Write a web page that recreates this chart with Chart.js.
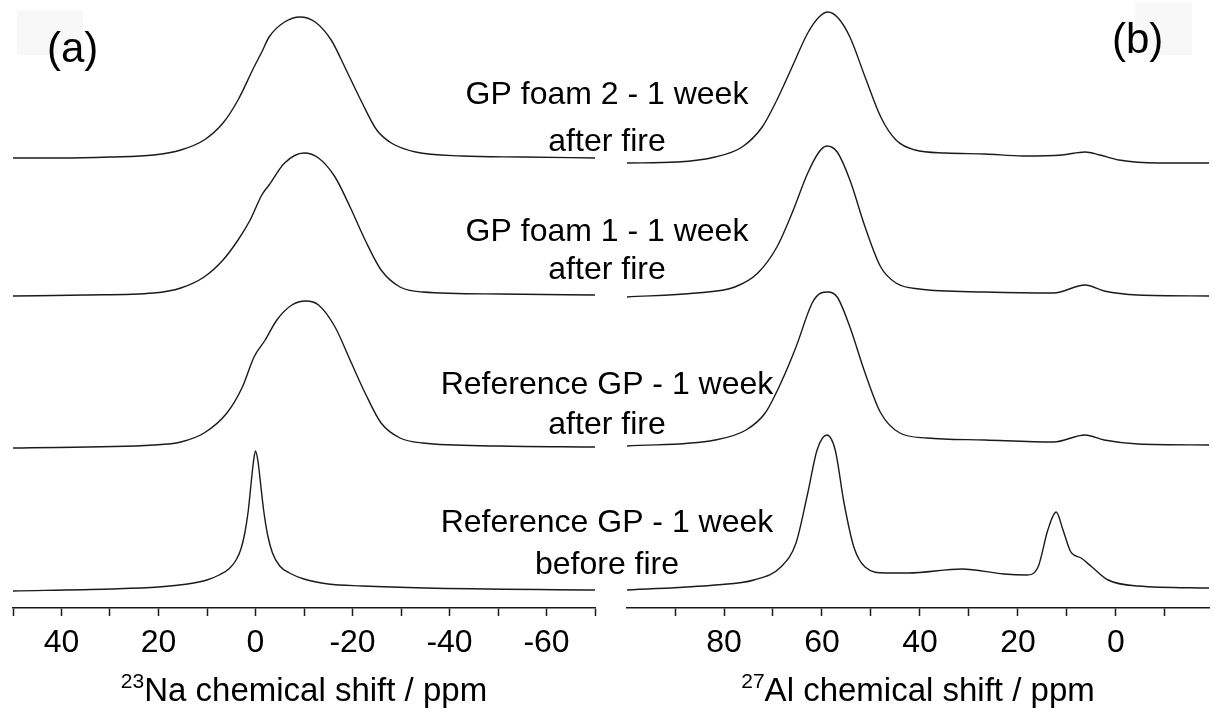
<!DOCTYPE html>
<html>
<head>
<meta charset="utf-8">
<script src="https://cdn.jsdelivr.net/npm/chart.js@4.4.1/dist/chart.umd.min.js"></script>
<style>
  html, body { margin: 0; padding: 0; background: #fff; }
  #wrap { position: relative; width: 1213px; height: 716px; }
  #wrap canvas { position: absolute; left: 0; top: 0; }
</style>
</head>
<body>
<div id="wrap">
  <canvas id="naChart" width="1213" height="716"></canvas>
  <canvas id="alChart" width="1213" height="716"></canvas>
</div>
<script>

/******************************************************************
SPECTRA (chemical shift in ppm, intensity above each baseline)
******************************************************************/

// 23Na
var naShiftFoam2 = [50, 40, 30, 21, 15.4, 10.6, 6.7, 3.6, 0.3, -1.3, -2.8, -6, -9.2, -12.3, -15.6, -18.7, -22, -25, -28, -33, -42.6, -55, -70];
var naFoam2      = [0, 0, 1, 3, 8, 18, 35, 58, 91, 106, 121, 136, 141, 136, 118, 88, 55, 28, 15, 6, 2, 1, 0];

var naShiftFoam1 = [50, 35, 21, 15.4, 10.6, 6.7, 3.6, 1.1, -1.3, -2.8, -6, -10, -13, -16.4, -19.5, -22.6, -25.9, -29.8, -34.5, -50.4, -70];
var naFoam1      = [0, 1, 3, 8, 19, 36, 56, 76, 101, 111, 133, 143, 138, 119, 89, 56, 26, 9, 4, 2, 1];

var naShiftRefAfter = [50, 21, 15.4, 10.6, 5.9, 2.7, 0.3, -2, -4.4, -7.5, -10.4, -13, -16.4, -19.5, -22.6, -25.9, -29.8, -34.5, -50, -70];
var naRefAfter      = [0, 3, 6, 15, 35, 61, 91, 108, 128, 143, 147, 143, 121, 88, 55, 25, 10, 5, 2, 1];

var naShiftRefBefore = [50, 30, 20, 14, 10, 7.5, 5.5, 4, 3, 2.2, 1.5, 0.9, 0.4, 0, -0.5, -1.1, -1.7, -2.5, -3.5, -5, -7, -10, -15, -22, -35, -70];
var naRefBefore      = [0, 2, 4, 7, 11, 16, 22, 31, 42, 58, 80, 108, 130, 140, 130, 105, 80, 56, 38, 25, 18, 12, 7, 5, 3, 1];

// 27Al
var alShiftFoam2 = [99.8, 89.6, 81.8, 76.3, 72.2, 69.2, 66.1, 62.9, 60.6, 58.8, 56.7, 54.3, 51.2, 48, 44.9, 41, 34.7, 26.7, 19, 11, 6.3, 3.3, -0.6, -8.6, -19];
var alFoam2      = [0, 1, 6, 16, 36, 63, 96, 130, 146, 151, 145, 126, 86, 46, 23, 13, 10, 9, 7, 8, 11, 8, 3, 0, 0];

var alShiftFoam1 = [99.8, 85.7, 77.8, 73.1, 69.2, 66.1, 62.9, 60.6, 59, 56.9, 54.3, 51.2, 48, 44.9, 40.2, 26.7, 12.7, 6.3, 2.4, -4.5, -19];
var alFoam1      = [0, 4, 10, 24, 50, 84, 124, 145, 151, 145, 117, 70, 30, 14, 8, 5, 4, 12, 6, 2, 1];

var alShiftRefAfter = [99.8, 81.8, 75.5, 71.6, 68.4, 65.3, 62, 60.2, 58.8, 56.9, 54.3, 51.2, 48, 44.1, 38.6, 26.7, 12.7, 6.3, 2.4, -4.5, -19];
var alRefAfter      = [0, 6, 16, 33, 63, 99, 143, 153, 154, 149, 119, 73, 33, 13, 8, 6, 4, 11, 6, 2, 1];

var alShiftRefBefore = [99.8, 81.8, 73.9, 68.4, 65.3, 62.9, 61, 59, 57.3, 55.5, 53.5, 51.2, 47.1, 42.4, 31.4, 22.9, 18.2, 15.9, 13.9, 12.2, 10.8, 9.2, 7.1, 4.9, 1.6, -4.5, -19];
var alRefBefore      = [0, 5, 10, 23, 47, 97, 140, 155, 140, 87, 43, 23, 17, 17, 21, 16, 15, 23, 60, 78, 60, 38, 32, 23, 10, 4, 2];

// stacking offsets, top trace first
var naOffsets = [450, 312, 160, 17];
var alOffsets = [445, 311, 162, 18];

var sampleNames = [
  ['GP foam 2 - 1 week', 'after fire'],
  ['GP foam 1 - 1 week', 'after fire'],
  ['Reference GP - 1 week', 'after fire'],
  ['Reference GP - 1 week', 'before fire']
];

// axis ranges and tick marks (ppm)
var naRange = { min: -70, max: 50 };
var alRange = { min: -19, max: 99.8 };
var naTickValues = [50, 40, 30, 20, 10, 0, -10, -20, -30, -40, -50, -60, -70];
var alTickValues = [90, 80, 70, 60, 50, 40, 30, 20, 10, 0, -10];


/******************************************************************
HELPERS
******************************************************************/

var FONT = '"Liberation Sans", Arial, Helvetica, sans-serif';
var INK = '#1a1a1a';
var TEXT = '#000';

function trace(shifts, values, offset) {
  var pts = [];
  for (var i = 0; i < shifts.length; i++) {
    pts.push({ x: shifts[i], y: values[i] + offset });
  }
  return {
    data: pts,
    borderColor: INK,
    borderWidth: 1.4,
    pointRadius: 0,
    fill: false,
    cubicInterpolationMode: 'monotone'
  };
}

function shiftAxis(range, tickValues) {
  return {
    type: 'linear',
    reverse: true,
    min: range.min,
    max: range.max,
    bounds: 'data',
    afterBuildTicks: function (axis) {
      axis.ticks = tickValues.map(function (v) { return { value: v }; });
    },
    afterFit: function (scale) { scale.height = 108; },
    border: { display: true, color: INK, width: 1.5 },
    grid: { display: true, drawOnChartArea: false, drawTicks: true, tickLength: 8, tickWidth: 1.5, tickColor: INK },
    ticks: {
      autoSkip: false,
      maxRotation: 0,
      padding: 8,
      color: TEXT,
      font: { family: FONT, size: 32 },
      callback: function (v) { return v % 20 === 0 ? String(v) : ''; }
    }
  };
}

// axis title with a raised mass number
var axisTitle = {
  id: 'axisTitle',
  afterDraw: function (chart, args, opts) {
    var ctx = chart.ctx;
    var sc = chart.scales.x;
    var mid = (sc.left + sc.right) / 2;
    ctx.save();
    ctx.fillStyle = TEXT;
    ctx.textAlign = 'left';
    ctx.textBaseline = 'alphabetic';
    ctx.font = '21px ' + FONT;
    var supW = ctx.measureText(opts.mass).width;
    ctx.font = '33px ' + FONT;
    var mainW = ctx.measureText(opts.text).width;
    var x0 = mid - (supW + mainW) / 2;
    ctx.fillText(opts.text, x0 + supW, opts.y);
    ctx.font = '21px ' + FONT;
    ctx.fillText(opts.mass, x0, opts.y - 13);
    ctx.restore();
  }
};

// panel letter on a faint box
var panelTag = {
  id: 'panelTag',
  beforeDraw: function (chart, args, opts) {
    var ctx = chart.ctx;
    ctx.save();
    ctx.fillStyle = '#f8f8f8';
    ctx.fillRect(opts.box[0], opts.box[1], opts.box[2], opts.box[3]);
    ctx.restore();
  },
  afterDraw: function (chart, args, opts) {
    var ctx = chart.ctx;
    ctx.save();
    ctx.fillStyle = TEXT;
    ctx.font = '42px ' + FONT;
    ctx.textAlign = 'left';
    ctx.textBaseline = 'alphabetic';
    ctx.fillText(opts.text, opts.x, opts.y);
    ctx.restore();
  }
};

// sample names between the two panels
var sampleLabels = {
  id: 'sampleLabels',
  afterDraw: function (chart, args, opts) {
    var ctx = chart.ctx;
    ctx.save();
    ctx.fillStyle = TEXT;
    ctx.font = '32px ' + FONT;
    ctx.textAlign = 'center';
    ctx.textBaseline = 'middle';
    for (var i = 0; i < sampleNames.length; i++) {
      ctx.fillText(sampleNames[i][0], opts.x, opts.rows[i][0]);
      ctx.fillText(sampleNames[i][1], opts.x, opts.rows[i][1]);
    }
    ctx.restore();
  }
};

function baseOptions(padLeft, padRight, range, tickValues) {
  return {
    responsive: false,
    animation: false,
    events: [],
    layout: { padding: { left: padLeft, right: padRight, top: 0, bottom: 0 } },
    scales: {
      x: shiftAxis(range, tickValues),
      y: { display: false, min: 0, max: 608 }
    },
    plugins: { legend: { display: false }, tooltip: { enabled: false } }
  };
}


/******************************************************************
23Na PANEL (a)
******************************************************************/

var naOpts = baseOptions(13, 618, naRange, naTickValues);
naOpts.plugins.axisTitle = { mass: '23', text: 'Na chemical shift / ppm', y: 701 };
naOpts.plugins.panelTag = { text: '(a)', x: 47, y: 62, box: [17, 10, 66, 45] };

new Chart(document.getElementById('naChart').getContext('2d'), {
  type: 'line',
  data: {
    datasets: [
      trace(naShiftFoam2, naFoam2, naOffsets[0]),
      trace(naShiftFoam1, naFoam1, naOffsets[1]),
      trace(naShiftRefAfter, naRefAfter, naOffsets[2]),
      trace(naShiftRefBefore, naRefBefore, naOffsets[3])
    ]
  },
  options: naOpts,
  plugins: [axisTitle, panelTag]
});


/******************************************************************
27Al PANEL (b)
******************************************************************/

var alOpts = baseOptions(627, 4, alRange, alTickValues);
alOpts.plugins.axisTitle = { mass: '27', text: 'Al chemical shift / ppm', y: 701 };
alOpts.plugins.panelTag = { text: '(b)', x: 1112, y: 53, box: [1135, 2, 57, 53] };
alOpts.plugins.sampleLabels = { x: 607, rows: [[95, 142], [232, 270], [385, 425], [523, 565]] };

new Chart(document.getElementById('alChart').getContext('2d'), {
  type: 'line',
  data: {
    datasets: [
      trace(alShiftFoam2, alFoam2, alOffsets[0]),
      trace(alShiftFoam1, alFoam1, alOffsets[1]),
      trace(alShiftRefAfter, alRefAfter, alOffsets[2]),
      trace(alShiftRefBefore, alRefBefore, alOffsets[3])
    ]
  },
  options: alOpts,
  plugins: [axisTitle, panelTag, sampleLabels]
});

</script>
</body>
</html>
